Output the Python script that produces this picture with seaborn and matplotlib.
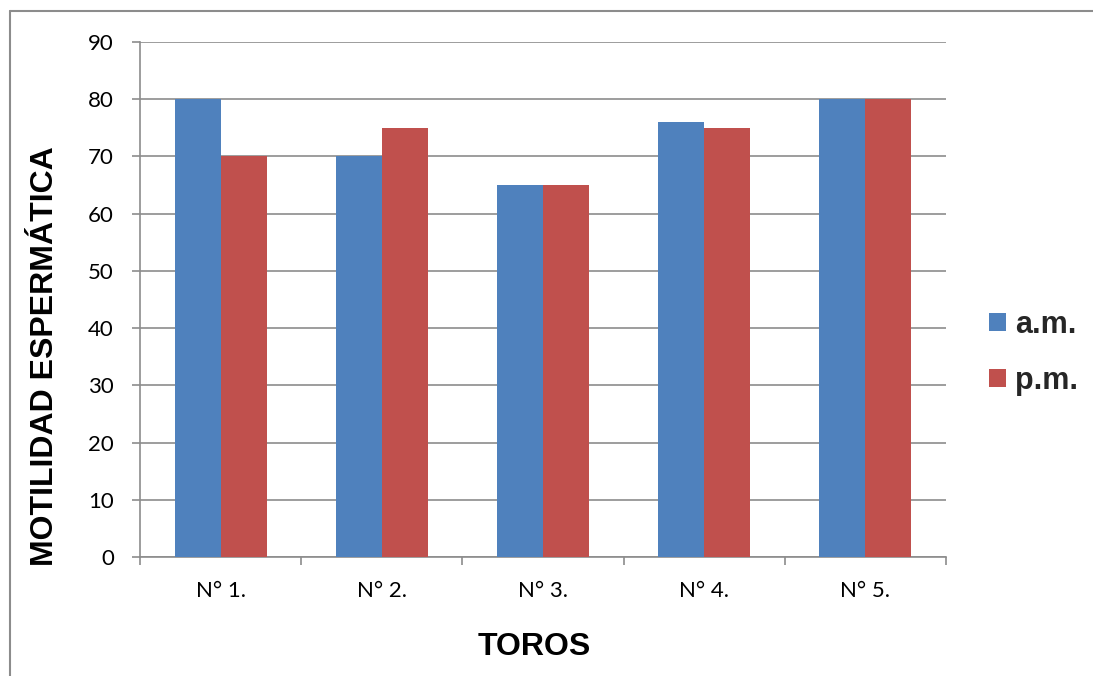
import matplotlib
matplotlib.use("Agg")
import matplotlib.pyplot as plt
from matplotlib.lines import Line2D
from matplotlib.patches import Patch
import seaborn as sns
import pandas as pd

# Data
toros = ["N° 1.", "N° 2.", "N° 3.", "N° 4.", "N° 5."]
am = [80, 70, 65, 76, 80]
pm = [70, 75, 65, 75, 80]
series = ["a.m.", "p.m."]
yticks = [0, 10, 20, 30, 40, 50, 60, 70, 80, 90]

df = pd.DataFrame({
    "toro": toros * 2,
    "serie": [series[0]] * len(toros) + [series[1]] * len(toros),
    "valor": am + pm,
})

sns.set_style("white")
colors = {"a.m.": "#4F81BD", "p.m.": "#C0504D"}
grey = "#8C8C8C"

W, H = 1093, 676
fig = plt.figure(figsize=(W / 100, H / 100), dpi=100)
ax = fig.add_axes([140 / W, 1 - 557 / H, (946 - 140) / W, (557 - 42) / H])

sns.barplot(data=df, x="toro", y="valor", hue="serie", palette=colors,
            width=0.57, saturation=1, ax=ax, legend=False, errorbar=None)

ax.set_ylim(0, 90)
ax.set_xlim(-0.5, len(toros) - 0.5)
ax.set_yticks(yticks)
ax.yaxis.grid(True, color=grey, linewidth=1.2)
ax.set_axisbelow(True)
for p in ax.patches:
    p.set_edgecolor("none")
    p.set_zorder(3)

for s in ["top", "right"]:
    ax.spines[s].set_visible(False)
for s in ["left", "bottom"]:
    ax.spines[s].set_color(grey)
    ax.spines[s].set_linewidth(1.2)

tick_font = "Lato"
ax.set_yticklabels([str(v) for v in yticks], fontsize=16, fontfamily=tick_font, color="black")
ax.tick_params(axis="y", length=5.8, width=1.2, color=grey, left=True, pad=13)
# category ticks at the boundaries between groups
ax.set_xticks([i + 0.5 for i in range(-1, len(toros))], minor=False)
ax.set_xticklabels([""] * (len(toros) + 1))
ax.tick_params(axis="x", which="major", length=5.8, width=1.2, color=grey, bottom=True)
ax.set_xticks(range(len(toros)), minor=True)
ax.set_xticklabels(toros, minor=True, fontsize=16, fontfamily=tick_font, color="black")
ax.tick_params(axis="x", which="minor", length=0, pad=17.5)

ax.set_xlabel("TOROS", fontsize=23, fontweight="bold", fontfamily="Liberation Sans", color="black")
ax.xaxis.set_label_coords((534 - 140) / 806, -(647 - 557) / 515)
ax.xaxis.label.set_va("center")
ax.set_ylabel("MOTILIDAD ESPERMÁTICA", fontsize=23, fontweight="bold",
              fontfamily="Liberation Sans", color="black")
ax.yaxis.set_label_coords(-(140 - 45) / 806, (557 - 356) / 515)
ax.yaxis.label.set_va("center")

handles = [Patch(facecolor=colors[s], edgecolor="none") for s in series]
fig.legend(handles, series, loc="center left", bbox_to_anchor=(989 / W, 1 - 353 / H),
           frameon=False, prop={"family": "Liberation Sans", "weight": "bold", "size": 22},
           handlelength=0.55, handleheight=0.55, handletextpad=0.3, labelspacing=0.85,
           borderaxespad=0, borderpad=0)

# outer frame (left and top edges)
fig.add_artist(Line2D([10 / W, 10 / W], [0, 1 - 11 / H], color=grey, lw=1.5,
                      transform=fig.transFigure))
fig.add_artist(Line2D([10 / W, 1], [1 - 11 / H, 1 - 11 / H], color=grey, lw=1.5,
                      transform=fig.transFigure))

fig.savefig("out.png", dpi=100)
